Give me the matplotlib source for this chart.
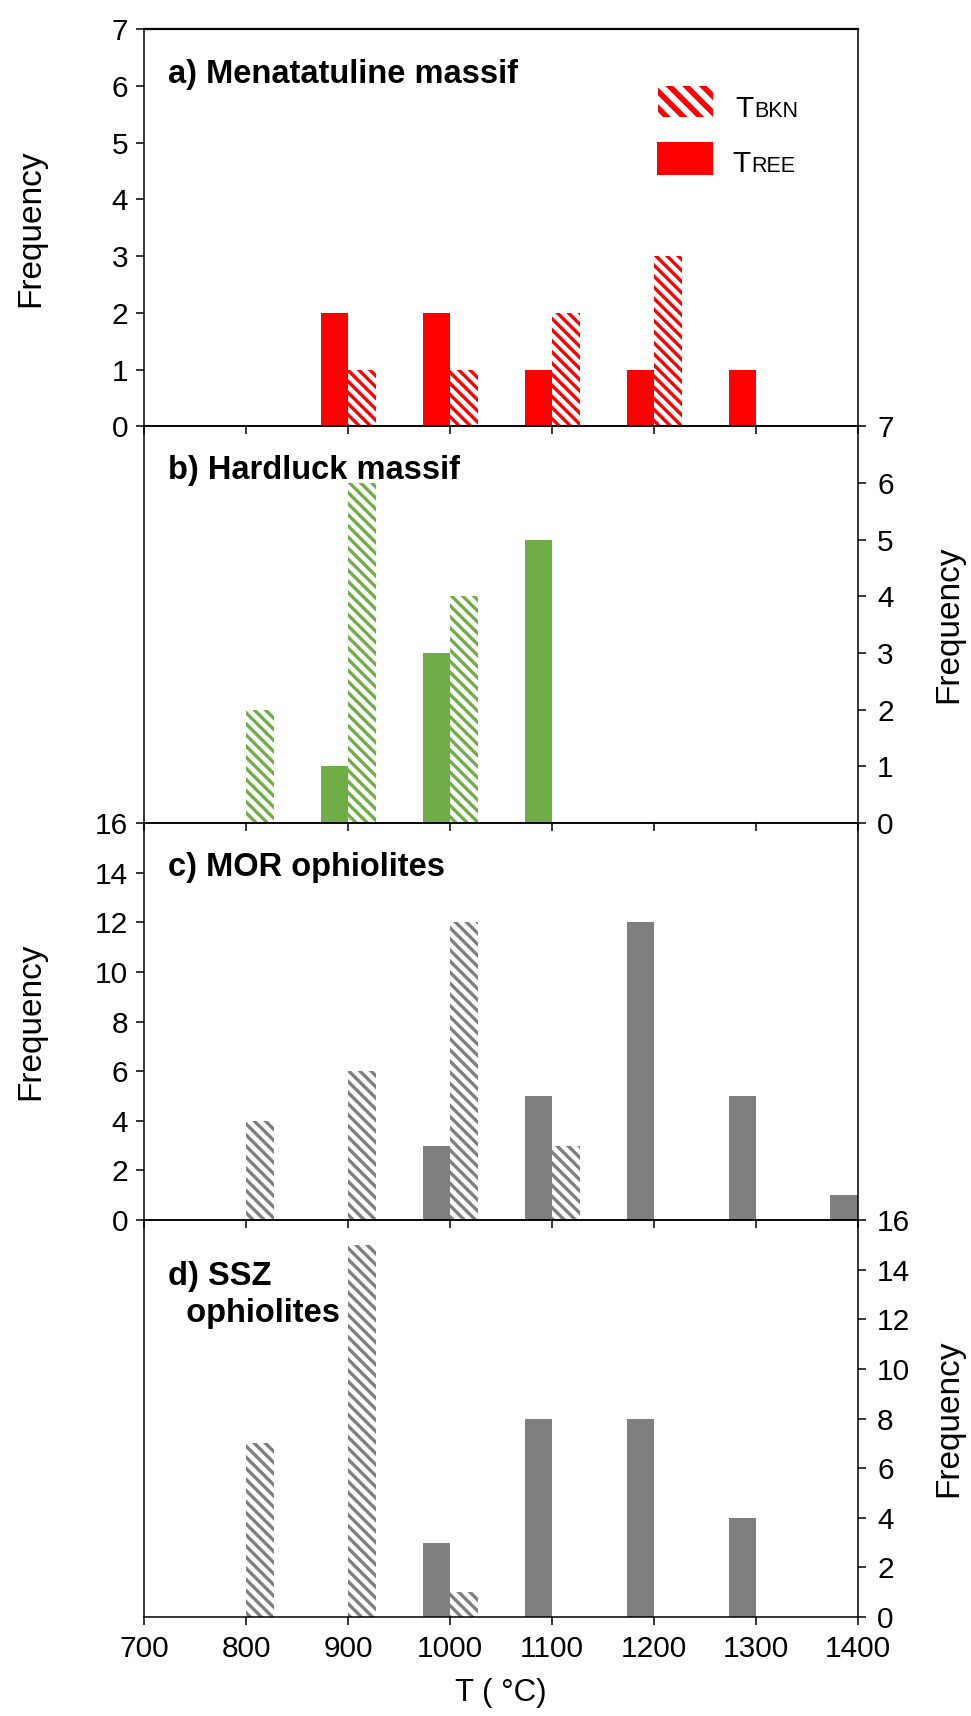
import matplotlib
matplotlib.use("Agg")
import matplotlib.pyplot as plt
from matplotlib.patches import Rectangle
from matplotlib.transforms import offset_copy

plt.rcParams['font.family'] = ['Liberation Sans', 'DejaVu Sans']
plt.rcParams['hatch.linewidth'] = 2.4

# temperature bins (deg C) - solid bars sit left of the bin, hatched bars right of it
temps = [800, 900, 1000, 1100, 1200, 1300, 1400]

# a) Menatatuline massif
a_ree = [0, 2, 2, 1, 1, 1, 0]
a_bkn = [0, 1, 1, 2, 3, 0, 0]
# b) Hardluck massif
b_ree = [0, 1, 3, 5, 0, 0, 0]
b_bkn = [2, 6, 4, 0, 0, 0, 0]
# c) MOR ophiolites
c_ree = [0, 0, 3, 5, 12, 5, 1]
c_bkn = [4, 6, 12, 3, 0, 0, 0]
# d) SSZ ophiolites
d_ree = [0, 0, 3, 8, 8, 4, 0]
d_bkn = [7, 15, 1, 0, 0, 0, 0]

titles = ['a) Menatatuline massif', 'b) Hardluck massif',
          'c) MOR ophiolites', 'd) SSZ\n  ophiolites']
title_y = [0.866, 0.866, 0.866, 0.836]
colors = ['#ff0000', '#70ad47', '#7f7f7f', '#7f7f7f']
ymaxes = [7, 7, 16, 16]
ysteps = [1, 1, 2, 2]
sides = ['left', 'right', 'left', 'right']
ree_sets = [a_ree, b_ree, c_ree, d_ree]
bkn_sets = [a_bkn, b_bkn, c_bkn, d_bkn]

bar_w = 27

fig = plt.figure(figsize=(9.71, 17.16), dpi=100)
left, width = 0.1488, 0.7348
h = 0.2313
bottoms = [0.0577 + 3 * h, 0.0577 + 2 * h, 0.0577 + h, 0.0577]

axes = []
for i in range(4):
    ax = fig.add_axes([left, bottoms[i], width, h])
    ax.patch.set_visible(False)
    col = colors[i]
    ax.bar(temps, ree_sets[i], width=-bar_w, align='edge', color=col, linewidth=0)
    ax.bar(temps, bkn_sets[i], width=bar_w, align='edge', facecolor='white',
           edgecolor=col, hatch='\\\\\\', linewidth=0)
    ax.set_xlim(700, 1400)
    ax.set_ylim(0, ymaxes[i])
    ax.set_xticks(range(700, 1401, 100))
    ax.set_yticks(range(0, ymaxes[i] + 1, ysteps[i]))
    for sp in ax.spines.values():
        sp.set_linewidth(1.1)
    ax.tick_params(axis='both', direction='out', length=5.8, width=1.1,
                   labelsize=21.5, color='black')
    ax.tick_params(axis='x', pad=7)
    if sides[i] == 'right':
        ax.yaxis.tick_right()
        ax.yaxis.set_label_position('right')
        ax.tick_params(axis='y', pad=8)
        ax.set_ylabel('Frequency', fontsize=24, rotation=90, va='center')
        ax.yaxis.set_label_coords(1.1275, 0.5)
    else:
        ax.tick_params(axis='y', pad=6)
        ax.set_ylabel('Frequency', fontsize=24, va='center')
        ax.yaxis.set_label_coords(-0.16, 0.5)
    if i < 3:
        ax.tick_params(axis='x', labelbottom=False)
    for k, line in enumerate(titles[i].split('\n')):
        ax.text(0.033, title_y[i] - k * 0.093, line, transform=ax.transAxes,
                fontsize=23.5, fontweight='bold', va='baseline', ha='left')
    axes.append(ax)

axes[0].spines['top'].set_linewidth(1.6)
axes[-1].set_xlabel('T ( \u00b0C)', fontsize=22.5, labelpad=11)

# legend in panel a, drawn by hand so the subscript-style labels fit
ax = axes[0]
with plt.rc_context({'hatch.linewidth': 4.0}):
    hp = Rectangle((0.72, 0.778), 0.077, 0.078, transform=ax.transAxes,
                   facecolor='white', edgecolor='#ff0000', hatch='\\\\', linewidth=0)
ax.add_patch(hp)
if hasattr(hp, 'set_hatch_linewidth'):
    hp.set_hatch_linewidth(4.0)
sp = Rectangle((0.719, 0.632), 0.078, 0.085, transform=ax.transAxes,
               facecolor='#ff0000', linewidth=0)
ax.add_patch(sp)

for (x, y, sub) in [(0.828, 0.780, 'BKN'), (0.824, 0.641, 'REE')]:
    ax.text(x, y, 'T', transform=ax.transAxes, fontsize=21.5, va='baseline')
    tr = offset_copy(ax.transAxes, fig=fig, x=13.6, y=0, units='points')
    ax.text(x, y, sub, transform=tr, fontsize=15.5, va='baseline')

fig.savefig('out.png', dpi=100)
